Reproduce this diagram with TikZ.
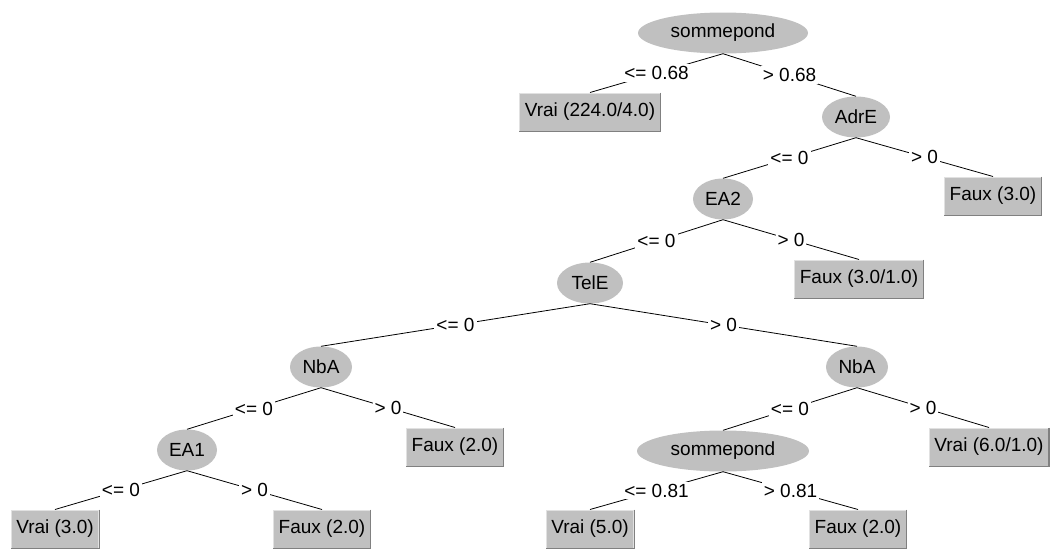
\documentclass[tikz,border=0pt]{standalone}
\usepackage{fontspec}
\setmainfont{Liberation Sans}
\usetikzlibrary{shapes.geometric}
\definecolor{wgray}{RGB}{192,192,192}
\definecolor{wlight}{RGB}{225,225,225}
\definecolor{wdark}{RGB}{128,128,128}
\tikzset{
  every node/.style={font=\fontsize{19}{22}\selectfont},
  dnode/.style={ellipse, fill=wgray, inner sep=0pt, minimum height=41pt},
  leaf/.style={rectangle, fill=wgray, draw=wlight, line width=1pt, minimum height=38pt, inner xsep=5pt, inner ysep=0pt},
  leafshade/.style={draw=wdark, line width=1.2pt},
  lbl/.style={fill=white, inner sep=2pt},
  edge/.style={draw=black, line width=0.8pt}
}
\begin{document}
\begin{tikzpicture}[x=1pt,y=-1pt]
\useasboundingbox (0,0) rectangle (1050,549);
% decision nodes
\node[dnode, minimum width=170pt] (r) at (723,33) {sommepond};
\node[dnode, minimum width=68pt] (adre) at (856,117) {AdrE};
\node[dnode, minimum width=60pt] (ea2) at (723,199) {EA2};
\node[dnode, minimum width=66pt] (tele) at (590,283) {TelE};
\node[dnode, minimum width=62pt] (nbal) at (321,367) {NbA};
\node[dnode, minimum width=62pt] (nbar) at (857,367) {NbA};
\node[dnode, minimum width=60pt] (ea1) at (187,450) {EA1};
\node[dnode, minimum width=172pt] (s2) at (723,451) {sommepond};
% leaves
\node[leaf] (l1) at (590,112) {Vrai (224.0/4.0)};
\node[leaf] (l2) at (993,196) {Faux (3.0)};
\node[leaf] (l3) at (859,279) {Faux (3.0/1.0)};
\node[leaf] (l4) at (455,447) {Faux (2.0)};
\node[leaf] (l5) at (989,447) {Vrai (6.0/1.0)};
\node[leaf] (l6) at (55,529) {Vrai (3.0)};
\node[leaf] (l7) at (322,529) {Faux (2.0)};
\node[leaf] (l8) at (590,529) {Vrai (5.0)};
\node[leaf] (l9) at (858,529) {Faux (2.0)};
\foreach \n in {l1,l2,l3,l4,l5,l6,l7,l8,l9}
  \draw[leafshade] (\n.north east) -- (\n.south east) -- (\n.south west);
% edges
\draw[edge] (r.south) -- node[lbl]{<= 0.68} (l1.north);
\draw[edge] (r.south) -- node[lbl]{> 0.68} (adre.north);
\draw[edge] (adre.south) -- node[lbl]{<= 0} (ea2.north);
\draw[edge] (adre.south) -- node[lbl]{> 0} (l2.north);
\draw[edge] (ea2.south) -- node[lbl]{<= 0} (tele.north);
\draw[edge] (ea2.south) -- node[lbl]{> 0} (l3.north);
\draw[edge] (tele.south) -- node[lbl]{<= 0} (nbal.north);
\draw[edge] (tele.south) -- node[lbl]{> 0} (nbar.north);
\draw[edge] (nbal.south) -- node[lbl]{<= 0} (ea1.north);
\draw[edge] (nbal.south) -- node[lbl]{> 0} (l4.north);
\draw[edge] (nbar.south) -- node[lbl]{<= 0} (s2.north);
\draw[edge] (nbar.south) -- node[lbl]{> 0} (l5.north);
\draw[edge] (ea1.south) -- node[lbl]{<= 0} (l6.north);
\draw[edge] (ea1.south) -- node[lbl]{> 0} (l7.north);
\draw[edge] (s2.south) -- node[lbl]{<= 0.81} (l8.north);
\draw[edge] (s2.south) -- node[lbl]{> 0.81} (l9.north);
\end{tikzpicture}
\end{document}
